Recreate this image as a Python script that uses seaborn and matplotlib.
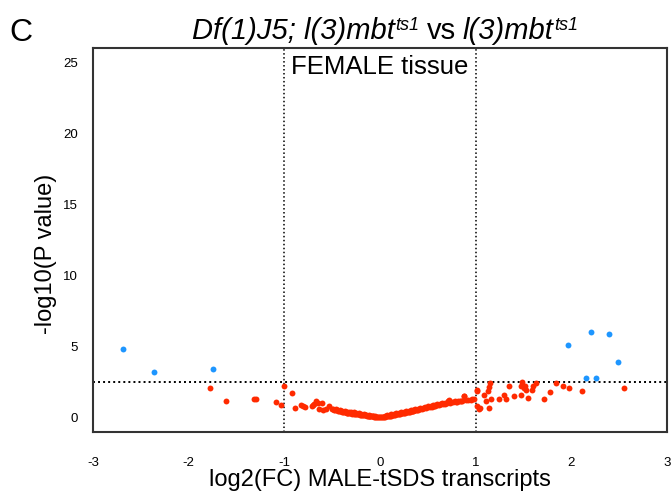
import matplotlib
matplotlib.use("Agg")
import matplotlib.pyplot as plt
import seaborn as sns
import pandas as pd

# ---------------- data ----------------
blue_x = [-2.69, -2.36, -1.75, 1.96, 2.21, 2.39, 2.49, 2.15, 2.26]
blue_y = [4.81, 3.22, 3.40, 5.12, 6.01, 5.92, 3.92, 2.82, 2.82]

red_x = [
    -1.78, -1.61, -1.32, -1.30, -1.09, -1.04, -1.00, -0.92, -0.89, -0.83,
    -0.80, -0.78, -0.71, -0.69, -0.67, -0.70, -0.65, -0.61, -0.64, -0.60,
    -0.53, -0.49, -0.56, -0.46,
    -0.50, -0.48, -0.47, -0.45, -0.44, -0.43, -0.42, -0.41, -0.40, -0.39,
    -0.38, -0.37, -0.36, -0.35, -0.34, -0.33, -0.32, -0.31, -0.30, -0.29,
    -0.28, -0.27, -0.26, -0.25, -0.24, -0.23, -0.22, -0.21, -0.20, -0.19,
    -0.18, -0.17, -0.16, -0.15, -0.14, -0.13, -0.12, -0.11, -0.10, -0.09,
    -0.08, -0.07, -0.06, -0.05, -0.04, -0.03, -0.02, -0.01, 0.00,
    0.01, 0.02, 0.03, 0.04, 0.05, 0.06, 0.07, 0.08, 0.09, 0.10,
    0.11, 0.12, 0.13, 0.14, 0.15, 0.16, 0.17, 0.18, 0.19, 0.20,
    0.21, 0.22, 0.23, 0.24, 0.25, 0.26, 0.27, 0.28, 0.29, 0.30,
    0.31, 0.32, 0.33, 0.34, 0.35, 0.36, 0.37, 0.38, 0.39, 0.40,
    0.42, 0.44, 0.46, 0.48, 0.50, 0.52, 0.54, 0.56, 0.58, 0.60,
    0.62, 0.64, 0.66, 0.68, 0.70, 0.73, 0.76, 0.80, 0.84, 0.90,
    0.95, 0.98,
    -0.45, -0.40, -0.35, -0.30, -0.25, -0.20, -0.15, -0.10, -0.05,
    0.05, 0.10, 0.15, 0.20, 0.25, 0.30, 0.35, 0.40,
    -0.42, -0.37, -0.32, -0.27, -0.22, -0.17, -0.12, -0.07,
    0.07, 0.12, 0.17, 0.22, 0.27, 0.32, 0.37, 0.42, 0.47, 0.53,
    0.58, 0.63, 0.68, 0.74, 0.79, 0.86,
    0.45, 0.50, 0.55, 0.60, 0.65, 0.71, 0.72, 0.78, 0.82, 0.85,
    0.88, 0.88, 0.92, 0.96, 1.01, 1.01, 1.01, 1.04, 1.05, 1.09,
    1.15, 1.14, 1.13, 1.11, 1.16, 1.14, 1.24, 1.30, 1.32, 1.35,
    1.40, 1.48, 1.47, 1.50, 1.52, 1.53, 1.47, 1.55, 1.59, 1.60,
    1.63, 1.71, 1.78, 1.84, 1.91, 1.98, 2.11, 2.55,
]
red_y = [
    2.10, 1.20, 1.30, 1.30, 1.10, 0.90, 2.20, 1.74, 0.70, 0.92,
    0.85, 0.73, 0.80, 0.95, 1.15, 0.92, 1.05, 1.03, 0.64, 0.56,
    0.80, 0.63, 0.60, 0.62,
    0.62, 0.58, 0.55, 0.52, 0.50, 0.47, 0.45, 0.48, 0.42, 0.40,
    0.41, 0.38, 0.39, 0.36, 0.37, 0.34, 0.35, 0.32, 0.33, 0.30,
    0.31, 0.28, 0.29, 0.26, 0.27, 0.25, 0.24, 0.23, 0.22, 0.21,
    0.20, 0.19, 0.18, 0.17, 0.16, 0.15, 0.14, 0.13, 0.12, 0.11,
    0.10, 0.09, 0.08, 0.07, 0.06, 0.05, 0.04, 0.03, 0.02,
    0.03, 0.04, 0.05, 0.06, 0.08, 0.09, 0.10, 0.12, 0.13, 0.14,
    0.16, 0.17, 0.18, 0.20, 0.21, 0.22, 0.24, 0.25, 0.27, 0.28,
    0.29, 0.31, 0.32, 0.34, 0.35, 0.37, 0.38, 0.40, 0.41, 0.43,
    0.44, 0.45, 0.47, 0.48, 0.50, 0.52, 0.53, 0.55, 0.56, 0.58,
    0.61, 0.64, 0.67, 0.70, 0.73, 0.76, 0.79, 0.82, 0.85, 0.88,
    0.91, 0.94, 0.97, 1.00, 1.03, 1.06, 1.10, 1.13, 1.17, 1.22,
    1.27, 1.32,
    0.58, 0.50, 0.44, 0.38, 0.33, 0.27, 0.21, 0.16, 0.10,
    0.12, 0.18, 0.26, 0.33, 0.41, 0.49, 0.56, 0.64,
    0.58, 0.50, 0.44, 0.38, 0.32, 0.26, 0.20, 0.14,
    0.17, 0.24, 0.31, 0.38, 0.46, 0.53, 0.60, 0.68, 0.76, 0.84,
    0.90, 0.97, 1.04, 1.08, 1.12, 1.20,
    0.72, 0.82, 0.90, 0.95, 1.02, 1.20, 1.22, 1.15, 1.20, 1.18,
    1.50, 1.55, 1.25, 1.30, 1.97, 1.90, 0.80, 0.61, 0.68, 1.62,
    2.44, 2.13, 1.90, 1.15, 1.30, 0.68, 1.30, 1.62, 1.30, 2.20,
    1.50, 2.50, 2.20, 2.09, 2.20, 1.92, 1.62, 1.39, 1.92, 2.20,
    2.44, 1.32, 1.81, 2.44, 2.20, 2.09, 1.90, 2.09,
]

fc_cutoff = [-1, 1]
p_cutoff = 2.5
x_ticks = [-3, -2, -1, 0, 1, 2, 3]
y_ticks = [0, 5, 10, 15, 20, 25]

# ---------------- style ----------------
sns.set_style("white")
plt.rcParams["font.family"] = ["Liberation Sans", "DejaVu Sans"]
plt.rcParams["text.color"] = "black"
plt.rcParams["axes.labelcolor"] = "black"
plt.rcParams["xtick.color"] = "black"
plt.rcParams["ytick.color"] = "black"

W, H = 672, 492
fig = plt.figure(figsize=(W / 100, H / 100), dpi=100)
ax = fig.add_axes([93 / W, 1 - 432 / H, (667 - 93) / W, (432 - 48) / H])

df_red = pd.DataFrame({"x": red_x, "y": red_y})
df_blue = pd.DataFrame({"x": blue_x, "y": blue_y})

sns.scatterplot(data=df_red, x="x", y="y", ax=ax, color="#ff2a00",
                s=18, linewidth=0, legend=False, zorder=3)
sns.scatterplot(data=df_blue, x="x", y="y", ax=ax, color="#1e96ff",
                s=18, linewidth=0, legend=False, zorder=3)

dot = (0, (1, 1.6))
for v in fc_cutoff:
    ax.axvline(v, color="black", lw=1.1, ls=dot, zorder=2)
ax.axhline(p_cutoff, color="black", lw=1.4, ls=dot, zorder=2)

ax.set_xlim(-3, 3)
ax.set_ylim(-1, 26)
ax.set_xticks(x_ticks)
ax.set_yticks(y_ticks)
ax.set_xticklabels([str(t) for t in x_ticks])
ax.set_yticklabels([str(t) for t in y_ticks])
ax.tick_params(axis="x", direction="out", length=5, width=1.2, color="#333333",
               labelsize=9.5, pad=13, labelcolor="black")
ax.tick_params(axis="y", direction="out", length=5, width=1.2, color="#333333",
               labelsize=9.5, pad=6, labelcolor="black")
for s in ax.spines.values():
    s.set_color("#333333")
    s.set_linewidth(1.5)
    s.set_visible(True)

ax.set_xlabel("log2(FC) MALE-tSDS transcripts", fontsize=17)
ax.xaxis.set_label_coords(0.5, -0.097)
ax.set_ylabel("-log10(P value)", fontsize=17)
ax.yaxis.set_label_coords(-0.062, 0.465)

ax.text(0, 24.2, "FEMALE tissue", ha="center", va="baseline", fontsize=18.5)

# ---- title built from pieces (italic gene names with superscripts) ----
renderer = fig.canvas.get_renderer()
base_y = 1 - 39 / H
parts = [
    ("Df(1)J5; l(3)mbt", "italic", 21, 0),
    ("ts1", "italic", 13, 9),
    ("vs", "normal", 21, 0),
    ("l(3)mbt", "italic", 21, 0),
    ("ts1", "italic", 13, 9),
]
gaps = [1, 7, 7, 1, 0]
objs = []
total = 0
for (txt, st, fs, dy), g in zip(parts, gaps):
    t = fig.text(0, base_y + dy / H, txt, fontsize=fs, style=st,
                 ha="left", va="baseline")
    w = t.get_window_extent(renderer).width
    objs.append((t, w, g))
    total += w + g
cx = (93 + 667) / 2 + 5
x0 = cx - total / 2
for t, w, g in objs:
    t.set_x(x0 / W)
    x0 += w + g

fig.text(9 / W, 1 - 41 / H, "C", ha="left", va="baseline", fontsize=23)

fig.savefig("out.png", dpi=100)
